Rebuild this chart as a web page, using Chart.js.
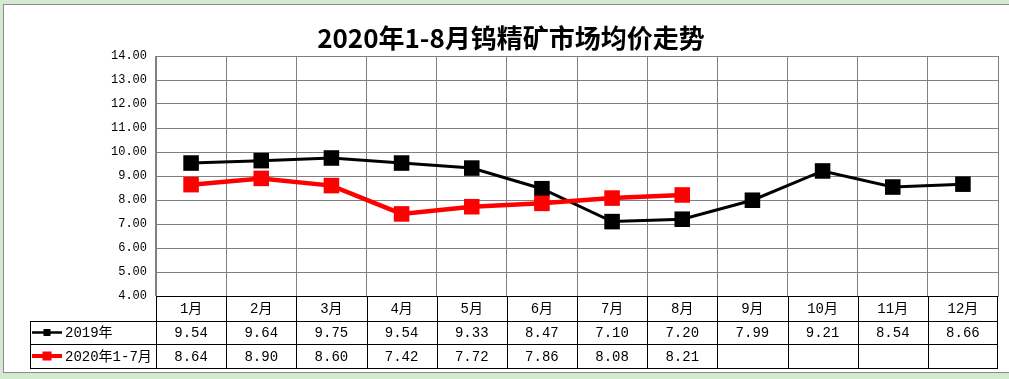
<!DOCTYPE html>
<html><head><meta charset="utf-8">
<script src="https://cdn.jsdelivr.net/npm/chart.js@4"></script>
<style>html,body{margin:0;padding:0;background:#d4ead0;overflow:hidden}#wrap{width:1009px;height:379px;position:relative}canvas{display:block}</style>
</head><body><div id="wrap"><canvas id="c"></canvas></div>
<script>
// ---- data ----
const chartTitle = '2020年1-8月钨精矿市场均价走势';
const categories = ['1月','2月','3月','4月','5月','6月','7月','8月','9月','10月','11月','12月'];
const seriesNames = ['2019年', '2020年1-7月'];
const values2019 = [9.54, 9.64, 9.75, 9.54, 9.33, 8.47, 7.10, 7.20, 7.99, 9.21, 8.54, 8.66];
const values2020 = [8.64, 8.90, 8.60, 7.42, 7.72, 7.86, 8.08, 8.21];
const yMin = 4, yMax = 14, yStep = 1;

// ---- styling ----
const seriesColors = ['#000000', '#ff0000'];
const seriesLineWidths = [3, 4.5];
const MONO = '"Liberation Mono", "Noto Sans CJK SC", monospace';

const tablePlugin = {
  id: 'tablePlugin',
  beforeDraw(chart) {
    const ctx = chart.ctx;
    ctx.save();
    ctx.fillStyle = '#d4ead0';
    ctx.fillRect(0, 0, chart.width, chart.height);
    ctx.fillStyle = '#ffffff';
    ctx.fillRect(3, 4, chart.width, 368);
    ctx.strokeStyle = '#8c8c8c';
    ctx.lineWidth = 1;
    ctx.strokeRect(3.5, 4.5, chart.width + 10, 368);
    ctx.restore();
  },
  afterDraw(chart) {
    const ctx = chart.ctx;
    const xs = chart.scales.x;
    const area = chart.chartArea;
    const n = categories.length;
    const colW = (area.right - area.left) / n;
    const rows = [area.bottom, area.bottom + 25, area.bottom + 48, area.bottom + 72];
    const legLeft = 30;
    ctx.save();
    // title
    ctx.fillStyle = '#000';
    ctx.font = 'bold 26px "Noto Sans CJK SC", sans-serif';
    ctx.textAlign = 'center';
    ctx.textBaseline = 'middle';
    ctx.fillText(chartTitle, 511, 38);

    // table lines
    ctx.strokeStyle = '#000';
    ctx.lineWidth = 1;
    ctx.beginPath();
    const R = Math.round(area.right) - 0.5;
    ctx.moveTo(Math.round(area.left) + 0.5, Math.round(rows[0]) + 0.5); ctx.lineTo(R, Math.round(rows[0]) + 0.5);
    for (let r = 1; r < rows.length; r++) {
      const y = Math.round(rows[r]) + 0.5;
      ctx.moveTo(legLeft + 0.5, y); ctx.lineTo(R, y);
    }
    for (let i = 0; i <= n; i++) {
      const x = Math.round(area.left + i * colW) + (i === n ? -0.5 : 0.5);
      ctx.moveTo(x, Math.round(rows[0])); ctx.lineTo(x, Math.round(rows[3]) + 1);
    }
    ctx.moveTo(legLeft + 0.5, Math.round(rows[1])); ctx.lineTo(legLeft + 0.5, Math.round(rows[3]) + 1);
    ctx.stroke();

    // header + values
    ctx.font = '14px ' + MONO;
    ctx.textAlign = 'center';
    ctx.textBaseline = 'middle';
    ctx.fillStyle = '#000';
    const series = [values2019, values2020];
    categories.forEach((c, i) => {
      const cx = xs.getPixelForValue(i);
      ctx.fillText(c, cx, (rows[0] + rows[1]) / 2 + 1);
      series.forEach((vals, s) => {
        if (vals[i] !== undefined && vals[i] !== null) {
          ctx.fillText(vals[i].toFixed(2), cx, (rows[s + 1] + rows[s + 2]) / 2 + 1);
        }
      });
    });

    // legend keys
    seriesNames.forEach((name, s) => {
      const cy = (rows[s + 1] + rows[s + 2]) / 2;
      ctx.strokeStyle = seriesColors[s];
      ctx.lineWidth = s === 0 ? 2.5 : 4;
      ctx.beginPath();
      ctx.moveTo(32, cy); ctx.lineTo(62, cy);
      ctx.stroke();
      ctx.fillStyle = seriesColors[s];
      const sz = s === 0 ? 7 : 9;
      ctx.fillRect(47 - sz / 2, cy - sz / 2, sz, sz);
      ctx.fillStyle = '#000';
      ctx.textAlign = 'left';
      ctx.fillText(name, 65, cy + 1);
    });
    ctx.restore();
  }
};

new Chart(document.getElementById('c'), {
  type: 'line',
  data: {
    labels: categories,
    datasets: [
      {
        label: seriesNames[1], data: values2020, order: 0,
        borderColor: seriesColors[1], backgroundColor: seriesColors[1],
        borderWidth: seriesLineWidths[1], pointStyle: 'rect', pointRadius: 11,
        pointBorderWidth: 0, tension: 0
      },
      {
        label: seriesNames[0], data: values2019, order: 1,
        borderColor: seriesColors[0], backgroundColor: seriesColors[0],
        borderWidth: seriesLineWidths[0], pointStyle: 'rect', pointRadius: 11,
        pointBorderWidth: 0, tension: 0
      }
    ]
  },
  options: {
    responsive: true, maintainAspectRatio: false, animation: false, events: [],
    layout: { padding: { left: 0, right: 10, top: 56, bottom: 83 } },
    plugins: { legend: { display: false }, title: { display: false }, tooltip: { enabled: false } },
    scales: {
      x: {
        offset: true,
        grid: { offset: true, color: '#808080', lineWidth: 1, drawTicks: false },
        border: { display: true, color: '#808080' },
        ticks: { display: false },
        afterFit(s) { s.height = 0; }
      },
      y: {
        min: yMin, max: yMax,
        grid: { color: '#808080', lineWidth: 1, drawTicks: false },
        border: { display: true, color: '#808080' },
        ticks: {
          stepSize: yStep, padding: 9, color: '#000',
          font: { family: MONO, size: 12 },
          callback: v => Number(v).toFixed(2)
        },
        afterFit(s) { s.width = 156; }
      }
    }
  },
  plugins: [tablePlugin]
});
</script>
</body></html>
